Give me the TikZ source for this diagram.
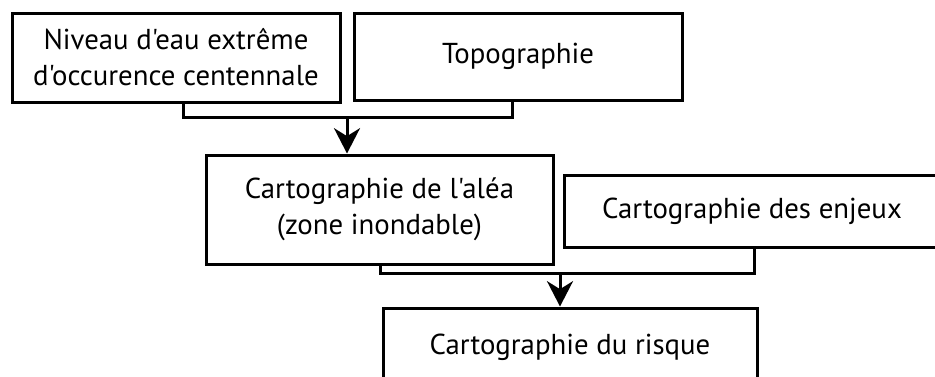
\documentclass[tikz,border=0pt]{standalone}
\usepackage{fontspec}
\setmainfont{PT Sans}[Ligatures=TeXOff]
\usetikzlibrary{arrows.meta}
\begin{document}
\begin{tikzpicture}[x=0.75pt,y=-0.75pt,
  box/.style={draw, line width=2.25pt, align=center, inner sep=0pt, font=\fontsize{21.6}{27}\selectfont},
  conn/.style={line width=2.25pt},
  arr/.style={line width=2.25pt, -{Stealth[length=19pt,width=19.5pt,inset=6pt]}}]
\useasboundingbox (0,0) rectangle (935,376);
\clip (0,0) rectangle (935,376);
\node[box, minimum width=246pt, minimum height=66.75pt] (b1) at (176,57.5) {Niveau d'eau extrême\\d'occurence centennale};
\node[box, minimum width=246pt, minimum height=65.25pt] (b2) at (518,56.5) {Topographie};
\node[box, minimum width=260.25pt, minimum height=81.75pt] (b3) at (379.5,209.5) {Cartographie de l'aléa\\(zone inondable)};
\node[box, minimum width=282pt, minimum height=54pt] (b4) at (752,211) {Cartographie des enjeux};
\node[box, minimum width=280.5pt, minimum height=58.5pt] (b5) at (570,347) {Cartographie du risque};
\coordinate (j1) at (347,117.5);
\coordinate (j2) at (560,273);
\draw[conn] ([xshift=5.25pt]b1.south) |- (j1) -| ([xshift=-4.5pt]b2.south);
\draw[arr] (j1) -- (j1 |- b3.north);
\draw[conn] ([xshift=0.375pt]b3.south) |- (j2) -| ([xshift=1.5pt]b4.south);
\draw[arr] (j2) -- (j2 |- b5.north);
\end{tikzpicture}
\end{document}
